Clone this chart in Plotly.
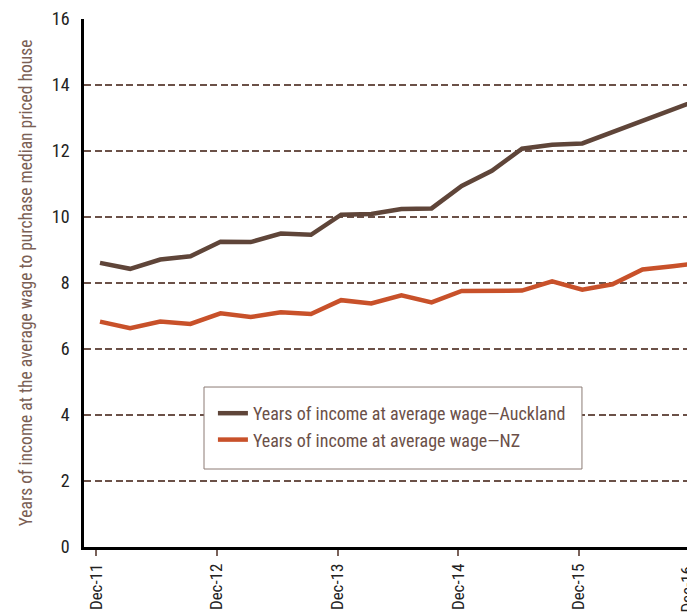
import plotly.graph_objects as go

# Quarterly observations starting Dec-11 (index = quarters since first observation)
quarter_index = list(range(21))
auckland = [8.61, 8.43, 8.71, 8.81, 9.25, 9.24, 9.50, 9.46, 10.07, 10.09, 10.24,
            10.26, 10.94, 11.40, 12.07, 12.19, 12.23, 12.57, 12.93, 13.25, 13.60]
nz = [6.83, 6.63, 6.83, 6.76, 7.08, 6.97, 7.11, 7.06, 7.48, 7.38, 7.63,
      7.41, 7.76, 7.76, 7.77, 8.05, 7.80, 7.96, 8.41, 8.51, 8.61]
tick_labels = ["Dec-11", "Dec-12", "Dec-13", "Dec-14", "Dec-15", "Dec-16"]
y_ticks = [0, 2, 4, 6, 8, 10, 12, 14, 16]

series_names = ["Years of income at average wage\u2014Auckland",
                "Years of income at average wage\u2014NZ"]

FONT = "Roboto Condensed, Liberation Sans Narrow, Roboto, sans-serif"
BROWN = "#5f4539"
ORANGE = "#c8512a"
GRID = "#6b5148"

tick_offset = -0.12
tick_vals = [tick_offset + 4 * k for k in range(len(tick_labels))]
x_range = [-0.53, 19.74]

fig = go.Figure()
fig.add_trace(go.Scatter(x=quarter_index, y=auckland, mode="lines", name=series_names[0],
                         line=dict(color=BROWN, width=4.5)))
fig.add_trace(go.Scatter(x=quarter_index, y=nz, mode="lines", name=series_names[1],
                         line=dict(color=ORANGE, width=4.5)))

annotations = []
for v, t in zip(tick_vals, tick_labels):
    if v > x_range[1]:
        xp = (v - x_range[0]) / (x_range[1] - x_range[0])
        annotations.append(dict(x=xp, xref="paper", y=-0.032, yref="paper", text=t,
                                showarrow=False, textangle=-90, xanchor="center", xshift=-12,
                                yanchor="top", font=dict(family=FONT, size=17, color="#222")))

# legend frame (white box with thin border)
shapes = [dict(type="rect", xref="paper", yref="paper", x0=0.1964, x1=0.815, y0=0.1477, y1=0.303,
               fillcolor="white", line=dict(color="#8c7b75", width=1), layer="above")]

fig.update_layout(
    width=687, height=608,
    margin=dict(l=76, r=0, t=11, b=69),
    paper_bgcolor="white", plot_bgcolor="white",
    showlegend=True,
    legend=dict(x=0.211, y=0.2879, xanchor="left", yanchor="top",
                bgcolor="rgba(0,0,0,0)", borderwidth=0,
                font=dict(family=FONT, size=18, color="#6b5048")),
    annotations=annotations,
    shapes=shapes,
    xaxis=dict(range=x_range, tickmode="array", tickvals=tick_vals, ticktext=tick_labels,
               tickangle=-90, ticks="outside", ticklen=6, tickwidth=1.5, tickcolor="#7a625a",
               showgrid=False, zeroline=False, showline=True, linecolor="black", linewidth=2.5,
               automargin=False, ticklabelstandoff=1,
               tickfont=dict(family=FONT, size=17, color="#222")),
    yaxis=dict(range=[0, 16], tickmode="array", tickvals=y_ticks, ticks="",
               showgrid=True, gridcolor=GRID, gridwidth=1.6, griddash="7px,3.5px",
               zeroline=False, showline=True, linecolor="black", linewidth=2.5,
               ticklabelstandoff=8, automargin=False,
               tickfont=dict(family=FONT, size=18, color="#222"),
               title=dict(text="Years of income at the average wage to purchase median priced house",
                          font=dict(family=FONT, size=17.5, color="#7b5f55"), standoff=15)),
)

fig.write_html("out.html")
